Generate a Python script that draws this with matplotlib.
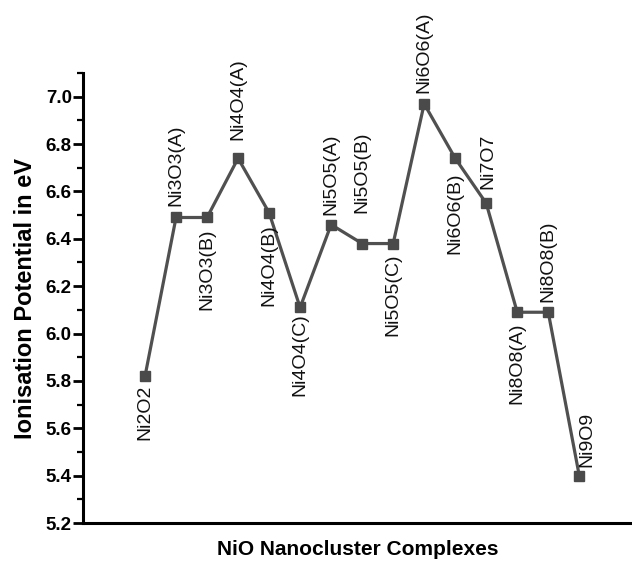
import numpy as np
import matplotlib
matplotlib.use("Agg")
import matplotlib.pyplot as plt
from matplotlib.ticker import MultipleLocator

plt.rcParams['font.family'] = ['Liberation Sans', 'DejaVu Sans']

# Data
complexes = ["Ni2O2", "Ni3O3(A)", "Ni3O3(B)", "Ni4O4(A)", "Ni4O4(B)", "Ni4O4(C)",
             "Ni5O5(A)", "Ni5O5(B)", "Ni5O5(C)", "Ni6O6(A)", "Ni6O6(B)", "Ni7O7",
             "Ni8O8(A)", "Ni8O8(B)", "Ni9O9"]
ionisation = [5.82, 6.49, 6.49, 6.74, 6.51, 6.11,
              6.46, 6.38, 6.38, 6.97, 6.74, 6.55,
              6.09, 6.09, 5.40]

# label offsets in pixels (dx, dy): positive dy = above the point
label_offsets = [(0, -8), (0, 11), (0, -11), (0, 18), (0, -11), (0, -6),
                 (0, 10), (0, 31), (0, -10), (0, 11), (0, -14), (2, 14),
                 (0, -10), (0, 10), (8, 9)]

x = np.arange(1, len(complexes) + 1)

fig = plt.figure(figsize=(6.32, 5.63), dpi=100)
ax = fig.add_axes([0.1313, 0.071, 0.8687, 0.7993])

ax.plot(x, ionisation, color="#505050", linewidth=2.3, marker="s",
        markersize=7.2, markerfacecolor="#4a4a4a", markeredgecolor="#4a4a4a")

for xi, yi, name, (dx, dy) in zip(x, ionisation, complexes, label_offsets):
    ax.annotate(name, (xi, yi), xytext=(dx, dy), textcoords="offset pixels",
                rotation=90, ha="center", va="bottom" if dy > 0 else "top",
                fontsize=14, color="#111111")

ax.set_xlim(-1, 16.7)
ax.set_ylim(5.2, 7.1)
ax.yaxis.set_major_locator(MultipleLocator(0.2))
ax.yaxis.set_minor_locator(MultipleLocator(0.1))
ax.set_yticks(np.arange(5.2, 7.01, 0.2))
ax.set_xticks([])

for s in ["top", "right"]:
    ax.spines[s].set_visible(False)
for s in ["left", "bottom"]:
    ax.spines[s].set_linewidth(2.2)

ax.tick_params(axis="y", which="major", length=7, width=2, labelsize=13.5, pad=1)
ax.tick_params(axis="y", which="minor", length=4, width=1.6)
for lab in ax.get_yticklabels():
    lab.set_fontweight("bold")

ax.set_ylabel("Ionisation Potential in eV", fontsize=17, fontweight="bold", labelpad=6)
ax.set_xlabel("NiO Nanocluster Complexes", fontsize=15, fontweight="bold", labelpad=12)

fig.savefig("out.png", dpi=100)
